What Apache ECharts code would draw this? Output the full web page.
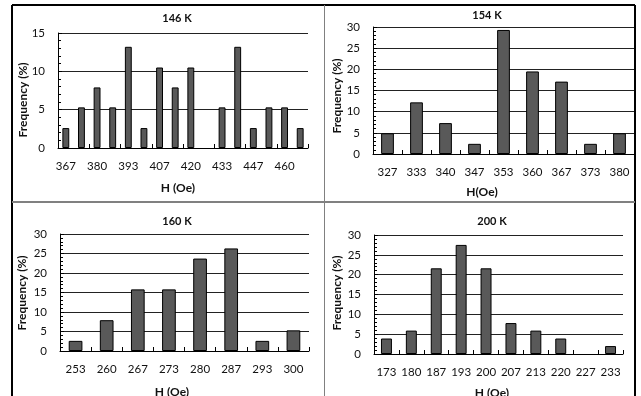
<!DOCTYPE html>
<html><head><meta charset="utf-8">
<script src="https://cdn.jsdelivr.net/npm/echarts@6/dist/echarts.min.js"></script>
<style>html,body{margin:0;padding:0;background:#fff}#c{width:641px;height:396px}</style>
</head><body><div id="c"></div>
<script>
// Panel titles
const titles = ['146 K', '154 K', '160 K', '200 K'];
const xNames = ['H (Oe)', 'H(Oe)', 'H (Oe)', 'H (Oe)'];
const yName = 'Frequency (%)';

// 146 K
const cats146 = ['367','373','380','387','393','400','407','413','420','427','433','440','447','453','460','467'];
const vals146 = [2.6,5.3,7.9,5.3,13.2,2.6,10.5,7.9,10.5,0,5.3,13.2,2.6,5.3,5.3,2.6];
// 154 K
const cats154 = ['327','333','340','347','353','360','367','373','380'];
const vals154 = [4.9,12.2,7.3,2.4,29.3,19.5,17.1,2.4,4.9];
// 160 K
const cats160 = ['253','260','267','273','280','287','293','300'];
const vals160 = [2.6,7.9,15.8,15.8,23.7,26.3,2.6,5.3];
// 200 K
const cats200 = ['173','180','187','193','200','207','213','220','227','233'];
const vals200 = [3.9,5.9,21.6,27.5,21.6,7.8,5.9,3.9,0,2.0];

// y axis ranges / tick labels
const yMax = [15, 30, 30, 30];
const yStep = [5, 5, 5, 5];

const cats = [cats146, cats154, cats160, cats200];
const vals = [vals146, vals154, vals160, vals200];
const labelInterval = [1, 0, 0, 0];

const FONT = 'Lato';
const grids = [
  {left: 58, top: 33, width: 250, height: 115},
  {left: 373, top: 27, width: 261, height: 127},
  {left: 60, top: 234, width: 249, height: 117},
  {left: 374, top: 235, width: 249, height: 119}
];
const titlePos = [[177,18],[487,15],[177,221],[492,221]];
const xNamePos = [[178,188],[482,192],[172,392],[492,393]];
const yNamePos = [[23,100],[337,96],[22,293],[337,293]];

const graphic = [];
// frame
const frame = [
  {x1:12,y1:5,x2:635,y2:5,c:'#000',w:2},
  {x1:12,y1:5,x2:12,y2:396,c:'#000',w:2},
  {x1:635,y1:5,x2:635,y2:396,c:'#000',w:2},
  {x1:324.5,y1:5,x2:324.5,y2:396,c:'#808080',w:1},
  {x1:12,y1:202,x2:635,y2:202,c:'#808080',w:2}
];
frame.forEach(f => graphic.push({type:'line', shape:{x1:f.x1,y1:f.y1,x2:f.x2,y2:f.y2}, style:{stroke:f.c, lineWidth:f.w}, z:10}));
for (let i = 0; i < 4; i++) {
  graphic.push({type:'text', x:titlePos[i][0], y:titlePos[i][1], style:{text:titles[i], font:'bold 11px '+FONT, fill:'#111', textAlign:'center', textVerticalAlign:'middle'}});
  graphic.push({type:'text', x:xNamePos[i][0], y:xNamePos[i][1], style:{text:xNames[i], font:'bold 12px '+FONT, fill:'#111', textAlign:'center', textVerticalAlign:'middle'}});
  graphic.push({type:'text', x:yNamePos[i][0], y:yNamePos[i][1], rotation:Math.PI/2, style:{text:yName, font:'bold 12px '+FONT, fill:'#111', textAlign:'center', textVerticalAlign:'middle'}});
}

const option = {
  animation: false,
  backgroundColor: '#fff',
  textStyle: {fontFamily: FONT},
  grid: grids.map(g => Object.assign({containLabel:false}, g)),
  xAxis: cats.map((c, i) => ({
    type: 'category', gridIndex: i, data: c,
    axisLine: {show: true, lineStyle: {color: '#000', width: 1}},
    axisTick: {show: true, inside: true, length: 4, alignWithLabel: false, lineStyle: {color: '#000'}},
    axisLabel: {interval: labelInterval[i], margin: 12, fontSize: 11.5, color: '#111', fontFamily: FONT},
    splitLine: {show: false}
  })),
  yAxis: yMax.map((m, i) => ({
    type: 'value', gridIndex: i, min: 0, max: m, interval: yStep[i],
    axisLine: {show: true, lineStyle: {color: '#000', width: 1}},
    axisTick: {show: true, inside: true, length: 4, lineStyle: {color: '#000'}},
    minorTick: {show: true, splitNumber: 5, length: 3, lineStyle: {color: '#000'}},
    axisLabel: {margin: 13, fontSize: 11.5, color: '#111', fontFamily: FONT},
    splitLine: {show: true, lineStyle: {color: '#222', width: 1}}
  })),
  series: vals.map((v, i) => ({
    type: 'bar', xAxisIndex: i, yAxisIndex: i,
    data: v.map(x => x === 0 ? {value: 0, itemStyle: {borderWidth: 0, opacity: 0}} : x),
    barWidth: '44%',
    itemStyle: {color: '#595959', borderColor: '#000', borderWidth: 1}
  })),
  graphic: graphic
};
const chart = echarts.init(document.getElementById('c'), null, {renderer: 'canvas'});
chart.setOption(option);
</script>
</body></html>
